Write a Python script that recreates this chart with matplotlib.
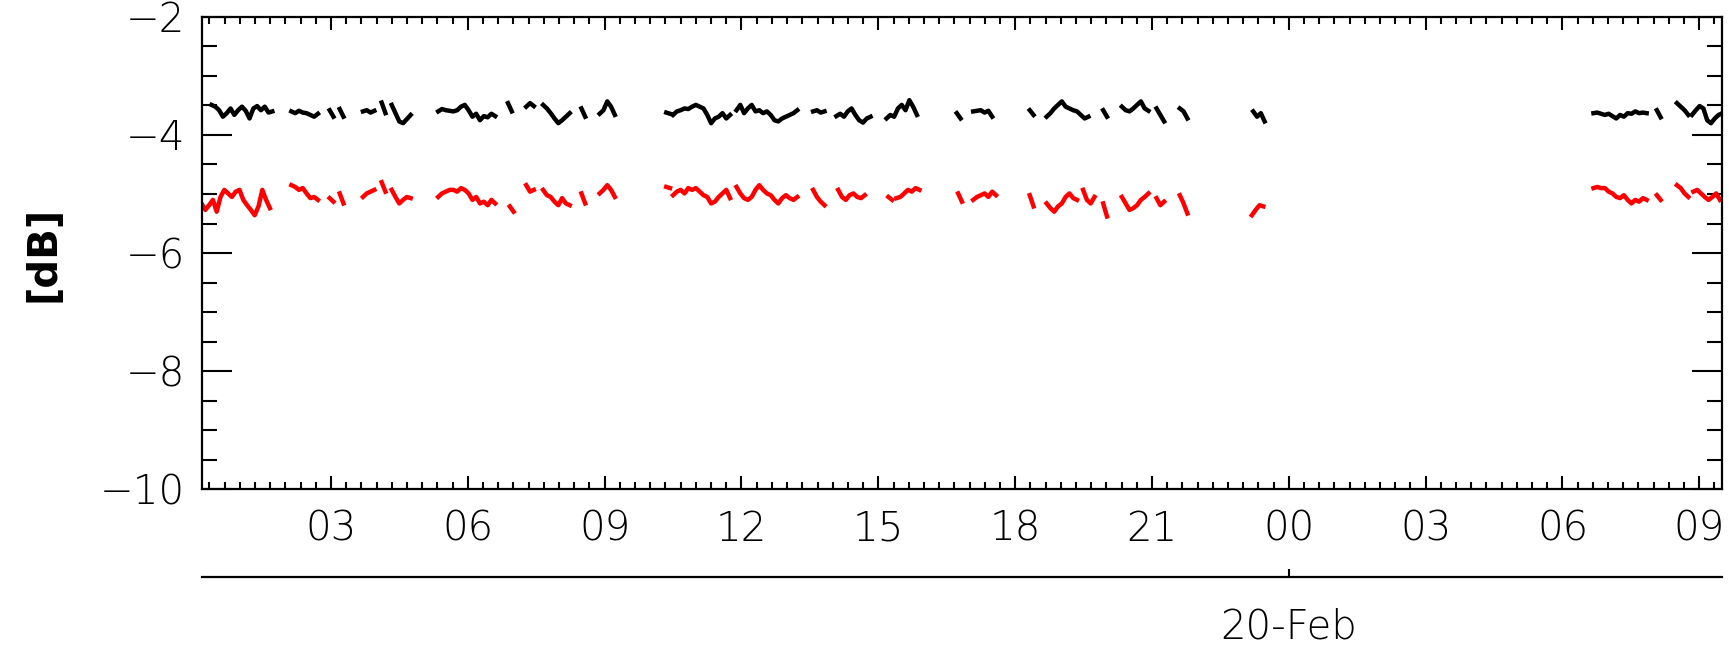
import numpy as np
import pandas as pd
import matplotlib
matplotlib.use("Agg")
import matplotlib.pyplot as plt
import matplotlib.dates as mdates

day0 = pd.Timestamp("2019-02-19 00:00")
step_min = 5
t_start, t_end = 0.17, 33.5   # hours after 19-Feb 00:00

# (start hour after 19-Feb 00:00, readings every 5 min) in dB
black_segments = [
    (0.38, [-3.49, -3.52, -3.58, -3.69, -3.63, -3.55, -3.66, -3.58, -3.52, -3.59, -3.72, -3.55, -3.51, -3.58, -3.52, -3.62, -3.60]),
    (2.13, [-3.60, -3.63, -3.59, -3.62, -3.63, -3.66, -3.69, -3.64]),
    (2.97, [-3.58, -3.69]),
    (3.19, [-3.56, -3.69]),
    (3.70, [-3.60, -3.58, -3.62, -3.59]),
    (4.11, [-3.45, -3.63]),
    (4.33, [-3.49, -3.63, -3.77, -3.80, -3.73, -3.66]),
    (5.35, [-3.60, -3.56, -3.58, -3.59, -3.60, -3.58, -3.52, -3.49, -3.58, -3.69, -3.64, -3.75, -3.68, -3.70, -3.64, -3.68]),
    (6.88, [-3.46, -3.60]),
    (7.28, [-3.52, -3.46, -3.51]),
    (7.65, [-3.49, -3.55, -3.63, -3.72, -3.80, -3.75, -3.69, -3.63]),
    (8.49, [-3.55, -3.69]),
    (8.89, [-3.64, -3.58, -3.43, -3.52, -3.66]),
    (10.35, [-3.62, -3.64]),
    (10.50, [-3.66, -3.60, -3.58, -3.55, -3.56, -3.52, -3.49, -3.52, -3.55, -3.66, -3.80, -3.72, -3.69, -3.63, -3.72, -3.66]),
    (11.89, [-3.58, -3.49, -3.63, -3.55, -3.49, -3.60, -3.58, -3.63, -3.60, -3.66, -3.75, -3.77, -3.72, -3.69, -3.66, -3.63, -3.58]),
    (13.57, [-3.60, -3.58, -3.62, -3.60]),
    (14.08, [-3.68, -3.64, -3.69, -3.60, -3.55, -3.66, -3.75, -3.79, -3.72, -3.69]),
    (15.18, [-3.72, -3.66, -3.69, -3.55, -3.49, -3.58, -3.41, -3.52, -3.66]),
    (16.72, [-3.63, -3.72]),
    (17.08, [-3.60, -3.59, -3.58, -3.62, -3.59, -3.69]),
    (18.32, [-3.58, -3.66]),
    (18.69, [-3.69, -3.63, -3.55, -3.49, -3.43, -3.52, -3.55, -3.58, -3.60, -3.66, -3.72, -3.69]),
    (19.93, [-3.58, -3.69]),
    (20.34, [-3.52, -3.58, -3.60, -3.55, -3.49, -3.43, -3.55, -3.59]),
    (21.10, [-3.55, -3.66, -3.77]),
    (21.61, [-3.55, -3.60, -3.72]),
    (23.22, [-3.60, -3.69, -3.63, -3.77]),
    (30.68, [-3.63, -3.62, -3.64, -3.66, -3.64, -3.68, -3.72, -3.66, -3.69, -3.63, -3.64, -3.60, -3.63, -3.62, -3.63]),
    (32.07, [-3.58, -3.70]),
    (32.51, [-3.46, -3.52, -3.58, -3.66]),
    (32.84, [-3.66, -3.58, -3.51, -3.55, -3.75, -3.80, -3.72, -3.66, -3.63]),
]

red_segments = [
    (0.16, [-5.16, -5.27, -5.19, -5.10, -5.30, -5.05, -4.93, -4.99, -5.05, -4.96, -4.93, -5.10, -5.19, -5.27, -5.36, -5.21, -4.93, -5.10, -5.24]),
    (2.13, [-4.85, -4.88, -4.93, -4.90, -4.99, -5.07, -5.05, -5.10]),
    (2.97, [-5.07, -5.13]),
    (3.19, [-4.99, -5.16]),
    (3.70, [-5.05, -4.99, -4.96, -4.93]),
    (4.11, [-4.80, -4.96]),
    (4.33, [-4.93, -5.05, -5.16, -5.10, -5.05, -5.07]),
    (5.35, [-5.05, -4.99, -4.96, -4.93, -4.93, -4.96, -4.90, -4.93, -4.99, -5.10, -5.05, -5.16, -5.13, -5.19, -5.10, -5.16]),
    (6.92, [-5.21, -5.30]),
    (7.28, [-4.85, -4.96, -4.93]),
    (7.65, [-4.93, -5.02, -5.05, -5.13, -5.19, -5.07, -5.16, -5.19]),
    (8.49, [-4.99, -5.16]),
    (8.89, [-4.99, -4.93, -4.85, -4.93, -5.05]),
    (10.35, [-4.88, -4.90]),
    (10.50, [-5.02, -4.96, -4.93, -4.99, -4.90, -4.93, -4.90, -4.96, -5.02, -5.05, -5.16, -5.13, -5.05, -4.99, -4.93, -5.07]),
    (11.89, [-4.88, -4.99, -5.07, -5.10, -5.05, -4.93, -4.85, -4.93, -4.99, -5.02, -5.10, -5.16, -5.07, -5.02, -5.07, -5.10, -5.05]),
    (13.57, [-4.93, -5.05, -5.13, -5.19]),
    (14.12, [-4.93, -5.05, -5.10, -5.02, -4.99, -5.05, -5.07, -5.02]),
    (15.22, [-5.05, -5.10]),
    (15.40, [-5.07, -5.05, -4.99, -4.93, -4.96, -4.90, -4.93]),
    (16.75, [-4.99, -5.13]),
    (17.08, [-5.10, -5.05, -5.02, -4.99, -5.05, -4.96, -5.02]),
    (18.32, [-5.02, -5.21]),
    (18.69, [-5.16, -5.24, -5.30, -5.21, -5.16, -5.05, -4.99, -5.07, -5.10]),
    (19.49, [-4.93, -5.10, -5.16, -5.05]),
    (19.93, [-5.16, -5.38]),
    (20.34, [-5.05, -5.16, -5.27, -5.24, -5.19, -5.10, -5.05, -4.99]),
    (21.10, [-5.07, -5.19, -5.13]),
    (21.61, [-5.02, -5.16, -5.33]),
    (23.19, [-5.36, -5.27, -5.19, -5.21]),
    (30.68, [-4.90, -4.88, -4.90, -4.90, -4.96, -4.99, -5.05, -5.07, -5.02, -5.10, -5.16, -5.10, -5.13, -5.07, -5.10]),
    (32.07, [-5.02, -5.10]),
    (32.51, [-4.85, -4.90, -4.99, -5.05]),
    (32.87, [-4.96, -4.93, -4.99, -5.05, -5.10, -5.05, -4.99, -5.10]),
]

y_ticks = [-10, -8, -6, -4, -2]
date_label = "20-Feb"


def build(segments):
    # stitch segments together with NaN gaps between them
    times, vals = [], []
    for start, values in segments:
        t = day0 + pd.to_timedelta(start, unit="h") + pd.to_timedelta(np.arange(len(values)) * step_min, unit="min")
        times.extend(t)
        vals.extend(values)
        times.append(t[-1] + pd.Timedelta(minutes=1))
        vals.append(np.nan)
    return pd.Series(vals, index=pd.DatetimeIndex(times))


black = build(black_segments)
red = build(red_segments)

plt.rcParams['font.family'] = ['DejaVu Sans']
plt.rcParams['font.weight'] = 'light'
fig = plt.figure(figsize=(17.29, 6.46), dpi=100)
ax = fig.add_axes([0.1168, 0.243, 0.8792, 0.7307])

ax.plot(black.index, black.values, color="black", lw=3.2)
ax.plot(red.index, red.values, color="#ff0000", lw=3.2)

ax.set_xlim(day0 + pd.Timedelta(hours=t_start), day0 + pd.Timedelta(hours=t_end))
ax.set_ylim(-10, -2)
ax.set_yticks(y_ticks)
ax.yaxis.set_minor_locator(plt.MultipleLocator(0.5))
ax.yaxis.set_major_formatter(plt.FuncFormatter(lambda v, p: "\u2212%d" % abs(v)))

ax.xaxis.set_major_locator(mdates.HourLocator(byhour=range(0, 24, 3)))
ax.xaxis.set_major_formatter(mdates.DateFormatter("%H"))
ax.xaxis.set_minor_locator(mdates.MinuteLocator(byminute=[0, 20, 40]))

for s in ax.spines.values():
    s.set_linewidth(1.6)

ax.tick_params(axis="y", which="major", direction="in", length=21.5, width=1.5, right=True, labelsize=29, pad=12)
ax.tick_params(axis="y", which="minor", direction="in", length=11, width=1.5, right=True)
ax.tick_params(axis="x", which="major", direction="in", length=9.5, width=1.5, top=True, labelsize=29, pad=15)
ax.tick_params(axis="x", which="minor", direction="in", length=5, width=1.5, top=True)

# day axis underneath
sec = ax.secondary_xaxis(-0.187)
sec.set_xticks([day0 + pd.Timedelta(days=1)])
sec.set_xticklabels([date_label])
sec.spines["bottom"].set_linewidth(1.6)
sec.tick_params(axis="x", which="major", direction="in", length=6, width=1.5, labelsize=29, pad=22)
sec.tick_params(axis="x", which="minor", length=0)

fig.text(0.025, 0.607, "[dB]", rotation=90, ha="center", va="center", fontsize=29, fontweight="bold")

fig.savefig("out.png", dpi=100)
